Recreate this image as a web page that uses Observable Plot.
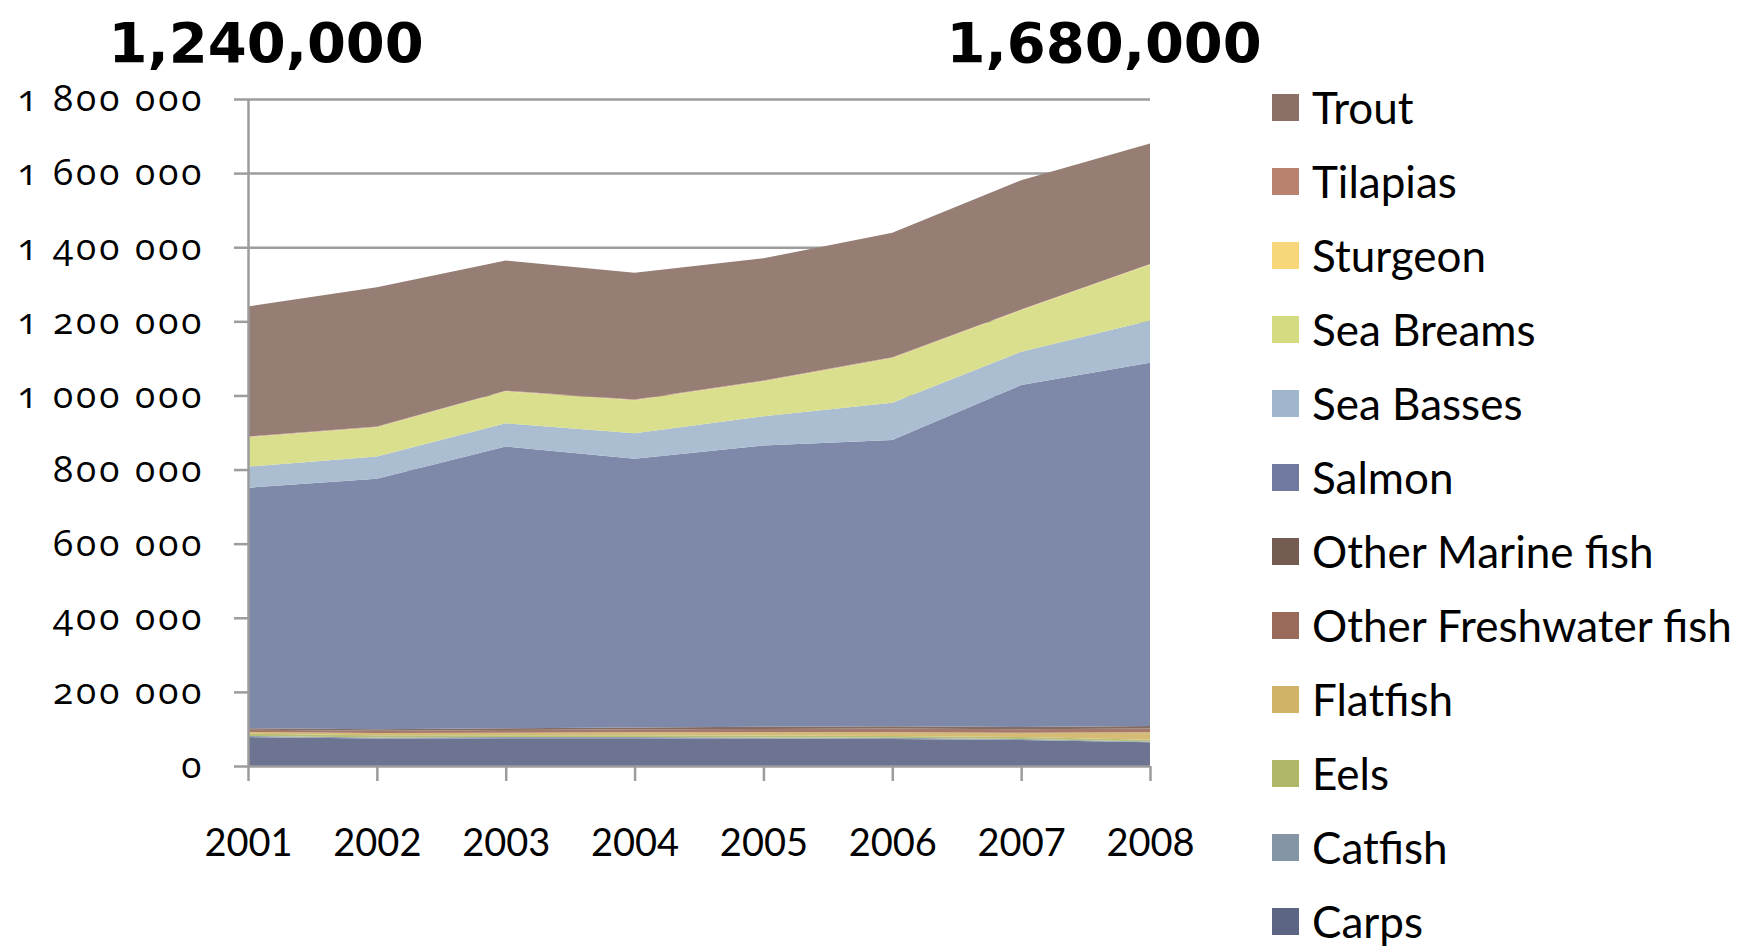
<!DOCTYPE html>
<html>
<head>
<meta charset="utf-8">
<script src="https://cdn.jsdelivr.net/npm/d3@7"></script>
<script src="https://cdn.jsdelivr.net/npm/@observablehq/plot@0.6"></script>
<style>
  html, body { margin: 0; padding: 0; background: #fff; }
  #wrap { position: relative; width: 1746px; height: 946px; overflow: hidden; }
  #legend { position: absolute; left: 1272px; top: 0; font-family: Lato, sans-serif; font-size: 44px; line-height: 1; color: #000; }
  .row { position: absolute; left: 0; height: 44px; display: flex; align-items: center; white-space: nowrap; }
  .sw { width: 27px; height: 27px; margin-right: 13px; flex: none; }
  g[aria-label="y-axis tick"], g[aria-label="x-axis tick"] { stroke: #9c9c9c; stroke-width: 2.5px; }
  g[aria-label="y-axis tick label"] { font-family: "Open Sans", sans-serif; letter-spacing: 3px; font-variant-numeric: oldstyle-nums; }
</style>
</head>
<body>
<div id="wrap"><div id="chart"></div><div id="legend"></div></div>
<script>
// ---- data (tonnes) ----
const years = [2001, 2002, 2003, 2004, 2005, 2006, 2007, 2008];
const species = ["Carps", "Catfish", "Eels", "Flatfish", "Other Freshwater fish", "Other Marine fish",
                 "Salmon", "Sea Basses", "Sea Breams", "Sturgeon", "Tilapias", "Trout"];
const colors  = ["#5d6585", "#8496a6", "#b0b868", "#d0b366", "#9a6a5a", "#745c53",
                 "#707b9f", "#a0b6cc", "#d5db80", "#f8d77a", "#b8826e", "#8a7066"];
const carps      = [78000, 74000, 75000, 75000, 74000, 73000, 70000, 64000];
const catfish    = [3000, 3000, 3000, 3000, 3000, 3000, 3000, 2000];
const eels       = [6000, 6000, 5000, 5000, 5000, 5000, 5000, 5000];
const flatfish   = [5000, 6000, 7000, 8000, 9000, 10000, 12000, 20000];
const otherFresh = [6000, 6000, 7000, 8000, 9000, 10000, 9000, 10000];
const otherMarine= [4000, 4000, 5000, 5000, 6000, 6000, 6000, 7000];
const salmon     = [649000, 676000, 760000, 725000, 759000, 773000, 923000, 980000];
const seaBasses  = [57000, 60000, 63000, 69000, 79000, 100000, 90000, 114000];
const seaBreams  = [79000, 79000, 86000, 89000, 94000, 121000, 112000, 151000];
const sturgeon   = [1000, 1000, 1000, 1000, 1000, 1000, 1000, 1000];
const tilapias   = [1000, 1000, 1000, 1000, 1000, 1000, 1000, 1000];
const trout      = [351000, 376000, 351000, 342000, 330000, 336000, 349000, 325000];
const seriesValues = [carps, catfish, eels, flatfish, otherFresh, otherMarine,
                      salmon, seaBasses, seaBreams, sturgeon, tilapias, trout];
const yTicks = [0, 200000, 400000, 600000, 800000, 1000000, 1200000, 1400000, 1600000, 1800000];
const yTickLabels = ["0", "200 000", "400 000", "600 000", "800 000", "1 000 000",
                     "1 200 000", "1 400 000", "1 600 000", "1 800 000"];
const annotYears  = [2001, 2008];
const annotLabels = ["1,240,000", "1,680,000"];

// ---- long table ----
const rows = [];
species.forEach((s, i) => years.forEach((y, j) => rows.push({year: y, species: s, value: seriesValues[i][j]})));
const annots = annotYears.map((y, i) => ({year: y, label: annotLabels[i]}));
const gray = "#9c9c9c";
// area fills are a slightly lighter, opaque version of the legend colours
const areaColors = colors.map(c => d3.interpolateRgb("#ffffff", c)(0.9));

const chart = Plot.plot({
  width: 1746,
  height: 946,
  marginLeft: 248,
  marginRight: 596,
  marginTop: 99,
  marginBottom: 180,
  style: {background: "transparent", overflow: "visible"},
  x: {domain: [2001, 2008], axis: null},
  y: {domain: [0, 1800000], axis: null},
  color: {domain: species, range: areaColors},
  marks: [
    Plot.ruleY(yTicks.filter(d => d > 0), {stroke: gray, strokeWidth: 2.5}),
    Plot.areaY(rows, {x: "year", y: "value", z: "species", fill: "species", order: species}),
    Plot.ruleX([2001], {stroke: gray, strokeWidth: 2.5}),
    Plot.ruleY([0], {stroke: gray, strokeWidth: 2.5}),
    Plot.axisY({ticks: yTicks, tickFormat: d => yTickLabels[yTicks.indexOf(d)], tickSize: 14, tickPadding: 30,
                fontSize: 37, fill: "#000", label: null}),
    Plot.axisX({ticks: years, tickFormat: d => String(d), tickSize: 15, tickPadding: 48,
                fontSize: 38, fill: "#000", fontFamily: "Lato, sans-serif", label: null}),
    Plot.text(annots.slice(0, 1), {x: "year", text: "label", frameAnchor: "top", textAnchor: "start", lineAnchor: "bottom",
                dx: -140, dy: -38, fontSize: 56, fontWeight: "bold", fontFamily: "DejaVu Sans", fill: "#000"}),
    Plot.text(annots.slice(1), {x: "year", text: "label", frameAnchor: "top", textAnchor: "start", lineAnchor: "bottom",
                dx: -204, dy: -38, fontSize: 56, fontWeight: "bold", fontFamily: "DejaVu Sans", fill: "#000"})
  ]
});
document.getElementById("chart").appendChild(chart);

// ---- legend (top to bottom: reverse of stack order) ----
const legend = document.getElementById("legend");
species.slice().reverse().forEach((s, i) => {
  const row = document.createElement("div");
  row.className = "row";
  row.style.top = (107 - 22 + 74 * i) + "px";
  const sw = document.createElement("div");
  sw.className = "sw";
  sw.style.background = colors[species.indexOf(s)];
  const tx = document.createElement("span");
  tx.textContent = s;
  row.appendChild(sw); row.appendChild(tx);
  legend.appendChild(row);
});
</script>
</body>
</html>
